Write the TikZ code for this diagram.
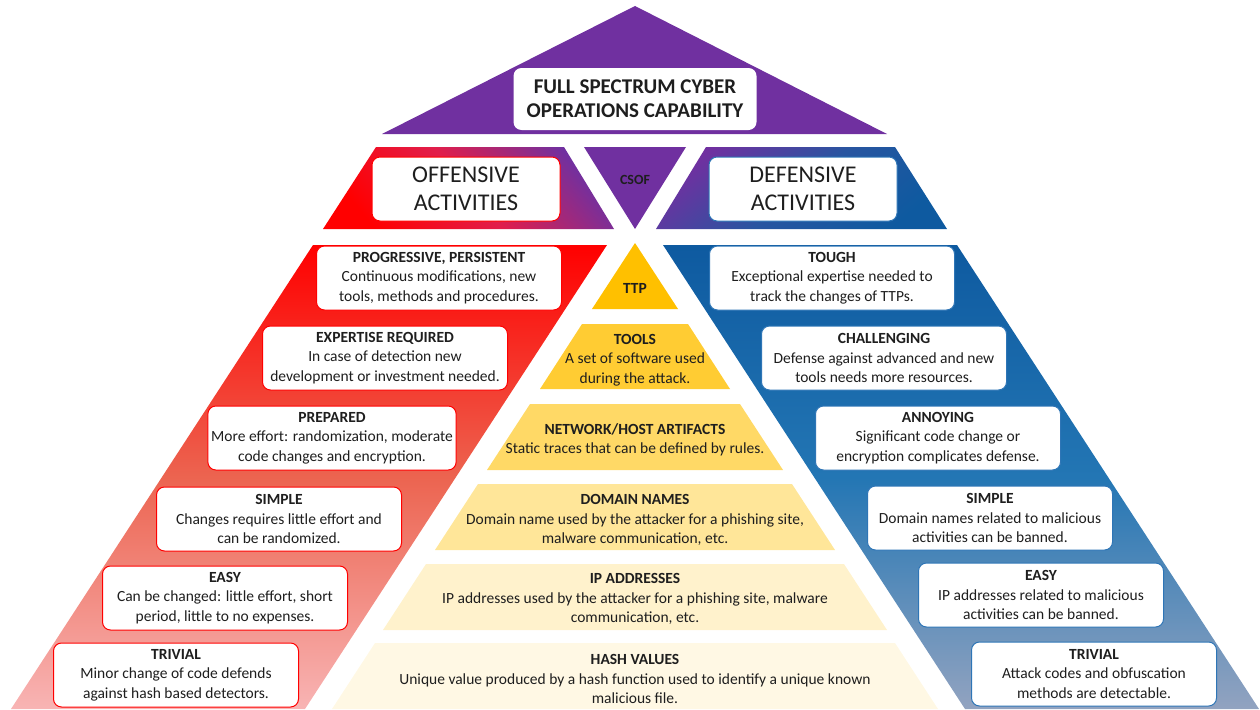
\documentclass[tikz,border=0pt]{standalone}
\usepackage{fontspec}
\setmainfont{Carlito}
\usepackage{tikz}
\definecolor{pvio}{RGB}{112,48,160}
\definecolor{defline}{RGB}{46,117,182}
\definecolor{offmid}{RGB}{236,100,80}
\definecolor{offlow}{RGB}{248,180,180}
\definecolor{deftop}{RGB}{14,90,160}
\definecolor{defmid}{RGB}{35,118,180}
\definecolor{deflow}{RGB}{146,163,192}
\definecolor{ylttp}{RGB}{255,192,0}
\definecolor{yltools}{RGB}{255,204,51}
\definecolor{ylnet}{RGB}{255,217,102}
\definecolor{yldom}{RGB}{255,230,153}
\definecolor{ylip}{RGB}{255,242,204}
\definecolor{ylhash}{RGB}{255,248,228}
\definecolor{txt}{RGB}{30,30,30}
\tikzset{
  offbox/.style={draw=red, line width=1pt, fill=white, rounded corners=8pt,
    minimum width=245pt, minimum height=64pt, align=center, text=txt,
    font=\fontsize{15.5}{19.5}\selectfont},
  defbox/.style={offbox, draw=defline},
  sidebox/.style={offbox, minimum width=188pt, font=\fontsize{24}{28}\selectfont},
  layertext/.style={align=center, text=txt, font=\fontsize{15.5}{19.5}\selectfont}
}

\begin{document}
\begin{tikzpicture}[x=1pt,y=-1pt]
        \useasboundingbox (0,0) rectangle (1260,709);
        \fill[pvio] (635,6)--(887,134)--(382,134)--cycle;
        \node[fill=white, rounded corners=8pt, minimum width=243pt, minimum height=62pt, align=center, text=txt, font=\fontsize{21}{24}\selectfont\bfseries] (title) at (635,99) {FULL SPECTRUM CYBER\\OPERATIONS CAPABILITY};
        \shade[top color=pvio, bottom color=red, middle color={rgb,255:red,225;green,30;blue,75}, shading angle=-50] (376,147)--(564,147)--(614,229)--(323,229)--cycle;
        \shade[top color=pvio, bottom color=deftop, middle color={rgb,255:red,40;green,85;blue,160}, shading angle=40] (706,147)--(895,147)--(947,229)--(656,229)--cycle;
        \fill[pvio] (584,147)--(686,147)--(635,229)--cycle;
        \node[font=\fontsize{14}{16}\selectfont\bfseries, text=txt] (csof) at (635,180) {CSOF};
        \node[sidebox] (off) at (466,189) {OFFENSIVE\\ACTIVITIES};
        \node[sidebox, draw=defline] (def) at (803,189) {DEFENSIVE\\ACTIVITIES};
        \shade[top color=red, bottom color=offlow, middle color=offmid] (313,245)--(607,245)--(305,709)--(11,709)--cycle;
        \shade[top color=deftop, bottom color=deflow, middle color=defmid] (663,245)--(957,245)--(1259,709)--(965,709)--cycle;
        \fill[ylttp] (635,243)--(678,309)--(592,309)--cycle;
        \fill[yltools] (582,324)--(688,324)--(730,389)--(540,389)--cycle;
        \fill[ylnet] (530,404)--(740,404)--(783,470)--(487,470)--cycle;
        \fill[yldom] (478,484)--(792,484)--(835,550)--(435,550)--cycle;
        \fill[ylip] (426,564)--(844,564)--(887,630)--(383,630)--cycle;
        \fill[ylhash] (375,643)--(895,643)--(938,709)--(332,709)--cycle;
        \node[layertext] (ttp) at (635,288) {\textbf{TTP}};
        \node[layertext] (tools) at (635,360) {\textbf{TOOLS}\\A set of software used\\during the attack.};
        \node[layertext] (net) at (635,440) {\textbf{NETWORK/HOST ARTIFACTS}\\Static traces that can be defined by rules.};
        \node[layertext] (dom) at (635,520) {\textbf{DOMAIN NAMES}\\Domain name used by the attacker for a phishing site,\\malware communication, etc.};
        \node[layertext] (ip) at (635,599) {\textbf{IP ADDRESSES}\\IP addresses used by the attacker for a phishing site, malware\\communication, etc.};
        \node[layertext] (hash) at (635,679) {\textbf{HASH VALUES}\\Unique value produced by a hash function used to identify a unique known\\malicious file.};
        \node[offbox] (o1) at (439,278) {\textbf{PROGRESSIVE, PERSISTENT}\\Continuous modifications, new\\tools, methods and procedures.};
        \node[offbox] (o2) at (385,358) {\textbf{EXPERTISE REQUIRED}\\In case of detection new\\development or investment needed.};
        \node[offbox] (o3) at (332,438) {\textbf{PREPARED}\\More effort: randomization, moderate\\code changes and encryption.};
        \node[offbox] (o4) at (279,519) {\textbf{SIMPLE}\\Changes requires little effort and\\can be randomized.};
        \node[offbox] (o5) at (225,598) {\textbf{EASY}\\Can be changed: little effort, short\\period, little to no expenses.};
        \node[offbox] (o6) at (176,675) {\textbf{TRIVIAL}\\Minor change of code defends\\against hash based detectors.};
        \node[defbox] (d1) at (832,278) {\textbf{TOUGH}\\Exceptional expertise needed to\\track the changes of TTPs.};
        \node[defbox] (d2) at (884,358) {\textbf{CHALLENGING}\\Defense against advanced and new\\tools needs more resources.};
        \node[defbox] (d3) at (938,438) {\textbf{ANNOYING}\\Significant code change or\\encryption complicates defense.};
        \node[defbox] (d4) at (990,518) {\textbf{SIMPLE}\\Domain names related to malicious\\activities can be banned.};
        \node[defbox] (d5) at (1041,595) {\textbf{EASY}\\IP addresses related to malicious\\activities can be banned.};
        \node[defbox] (d6) at (1094,674) {\textbf{TRIVIAL}\\Attack codes and obfuscation\\methods are detectable.};
\end{tikzpicture}
\end{document}
